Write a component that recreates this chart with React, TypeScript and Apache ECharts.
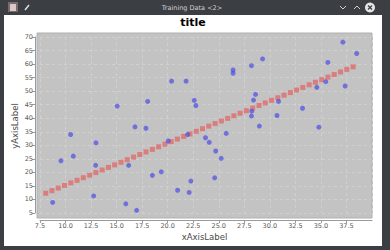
import React, { useEffect, useRef } from "react";
import * as echarts from "echarts";

const windowTitle = "Training Data <2>";
const chartTitle = "title";
const xAxisTitle = "xAxisLabel";
const yAxisTitle = "yAxisLabel";

// observed training points
const dataX = [8.74, 9.55, 10.5, 10.76, 12.75, 12.95, 12.98, 15.06, 15.9, 16.18, 16.8, 16.96, 17.87, 18.04, 18.5, 19.37, 20.05, 20.38, 20.97, 21.8, 21.95, 22.1, 22.27, 22.6, 22.76, 23.7, 24.07, 24.6, 24.7, 25.24, 25.73, 26.4, 26.4, 28.2, 29.29, 28.2, 28.23, 28.4, 28.6, 28.97, 30.7, 30.85, 33.2, 34.6, 34.8, 35.48, 35.68, 37.15, 37.37, 38.5];
const dataY = [8.9, 24.3, 34.0, 26.0, 11.3, 22.6, 30.9, 44.5, 8.4, 22.6, 36.8, 6.0, 36.3, 46.2, 18.9, 20.2, 31.6, 53.7, 13.4, 53.7, 34.0, 12.6, 16.8, 46.6, 44.7, 32.8, 31.1, 18.0, 27.9, 25.2, 34.4, 56.6, 57.8, 59.4, 61.9, 40.8, 42.6, 46.7, 48.8, 37.1, 41.0, 46.2, 43.7, 51.4, 36.7, 53.5, 60.6, 68.1, 51.9, 63.9];

// fitted line points (red squares)
const fitX = [8.06, 8.67, 9.29, 9.9, 10.52, 11.13, 11.74, 12.36, 12.97, 13.59, 14.2, 14.81, 15.43, 16.04, 16.66, 17.27, 17.88, 18.5, 19.11, 19.73, 20.34, 20.95, 21.57, 22.18, 22.8, 23.41, 24.02, 24.64, 25.25, 25.87, 26.48, 27.09, 27.71, 28.32, 28.94, 29.55, 30.16, 30.78, 31.39, 32.01, 32.62, 33.23, 33.85, 34.46, 35.08, 35.69, 36.3, 36.92, 37.53, 38.15];
const fitY = [12.3, 13.25, 14.21, 15.16, 16.11, 17.07, 18.02, 18.97, 19.92, 20.88, 21.83, 22.78, 23.74, 24.69, 25.64, 26.6, 27.55, 28.5, 29.45, 30.41, 31.36, 32.31, 33.27, 34.22, 35.17, 36.13, 37.08, 38.03, 38.98, 39.94, 40.89, 41.84, 42.8, 43.75, 44.7, 45.66, 46.61, 47.56, 48.51, 49.47, 50.42, 51.37, 52.33, 53.28, 54.23, 55.19, 56.14, 57.09, 58.04, 59.0];

export default function App() {
  const ref = useRef<HTMLDivElement>(null);
  useEffect(() => {
    const chart = echarts.init(ref.current!, null, { renderer: "svg" });
    const font = "DejaVu Sans";
    const labelColor = "#5a5a5a";
    const gridLine = { show: true, lineStyle: { color: "#d0d0d0", width: 1, type: [3, 3] } };
    chart.setOption({
      animation: false,
      backgroundColor: "#3b3e43",
      textStyle: { fontFamily: font },
      grid: { left: 40, right: 18, top: 37, bottom: 37 },
      xAxis: {
        type: "value",
        min: 7.5,
        max: 40,
        interval: 2.5,
        offset: 7,
        axisLine: { show: true, lineStyle: { color: "#9a9a9a", width: 1 } },
        axisTick: { show: true, length: 3, lineStyle: { color: "#9a9a9a" } },
        axisLabel: {
          show: true,
          margin: 2,
          fontSize: 6.5,
          color: labelColor,
          fontFamily: font,
          showMaxLabel: false,
          formatter: (v: number) => v.toFixed(1),
        },
        splitLine: gridLine,
      },
      yAxis: {
        type: "value",
        min: 5,
        max: 70,
        interval: 5,
        offset: 5,
        axisLine: { show: true, lineStyle: { color: "#9a9a9a", width: 1 } },
        axisTick: { show: true, length: 3, lineStyle: { color: "#9a9a9a" } },
        axisLabel: { show: true, margin: 2, fontSize: 6.5, color: labelColor, fontFamily: font },
        splitLine: gridLine,
      },
      series: [
        {
          type: "scatter",
          name: "fit",
          data: fitX.map((x, i) => [x, fitY[i]]),
          symbol: "rect",
          symbolSize: 5,
          itemStyle: { color: "rgba(228,92,92,0.85)" },
          clip: false,
          z: 2,
        },
        {
          type: "scatter",
          name: "data",
          data: dataX.map((x, i) => [x, dataY[i]]),
          symbol: "circle",
          symbolSize: 5,
          itemStyle: { color: "rgba(72,72,228,0.85)" },
          clip: false,
          z: 3,
        },
      ],
      graphic: {
        elements: [
          { type: "rect", z: -20, shape: { x: 4, y: 15, width: 378, height: 231 }, style: { fill: "#ffffff" } },
          { type: "rect", z: -10, shape: { x: 37, y: 33, width: 335, height: 185 }, style: { fill: "#c3c3c3" } },
          { type: "rect", z: 1, shape: { x: 37, y: 33, width: 335, height: 185 }, style: { fill: "none", stroke: "#b0b0b0", lineWidth: 1 } },
          // window title bar contents
          { type: "text", z: 10, x: 192, y: 7.5, style: { text: windowTitle, fill: "#d2d2d2", fontSize: 6.5, fontFamily: font, align: "center", verticalAlign: "middle" } },
          { type: "rect", z: 10, shape: { x: 8, y: 2, width: 10, height: 10 }, style: { fill: "#7a6a6a" } },
          { type: "rect", z: 11, shape: { x: 10, y: 4, width: 6, height: 7 }, style: { fill: "#d8c8c8" } },
          { type: "line", z: 10, shape: { x1: 25, y1: 10, x2: 29, y2: 5 }, style: { stroke: "#e0e0e0", lineWidth: 1.5 } },
          { type: "polyline", z: 10, shape: { points: [[340, 6], [343, 9], [346, 6]] }, style: { stroke: "#d0d0d0", fill: "none", lineWidth: 1 } },
          { type: "polyline", z: 10, shape: { points: [[354, 9], [357, 6], [360, 9]] }, style: { stroke: "#d0d0d0", fill: "none", lineWidth: 1 } },
          { type: "circle", z: 10, shape: { cx: 370, cy: 7.5, r: 5 }, style: { fill: "#e6e6e6" } },
          { type: "line", z: 11, shape: { x1: 368, y1: 5.5, x2: 372, y2: 9.5 }, style: { stroke: "#3b3e43", lineWidth: 1.2 } },
          { type: "line", z: 11, shape: { x1: 372, y1: 5.5, x2: 368, y2: 9.5 }, style: { stroke: "#3b3e43", lineWidth: 1.2 } },
          // chart title and axis titles
          { type: "text", z: 10, x: 193, y: 22, style: { text: chartTitle, fill: "#000000", fontSize: 11, fontWeight: "bold", fontFamily: font, align: "center", verticalAlign: "middle" } },
          { type: "text", z: 10, x: 204.5, y: 237, style: { text: xAxisTitle, fill: "#4a4a4a", fontSize: 8.5, fontFamily: font, align: "center", verticalAlign: "middle" } },
          { type: "text", z: 10, x: 15, y: 126, rotation: Math.PI / 2, style: { text: yAxisTitle, fill: "#4a4a4a", fontSize: 8.5, fontFamily: font, align: "center", verticalAlign: "middle" } },
        ],
      },
    });
    return () => chart.dispose();
  }, []);
  return <div ref={ref} style={{ position: "fixed", left: 0, top: 0, width: 390, height: 250 }} />;
}
